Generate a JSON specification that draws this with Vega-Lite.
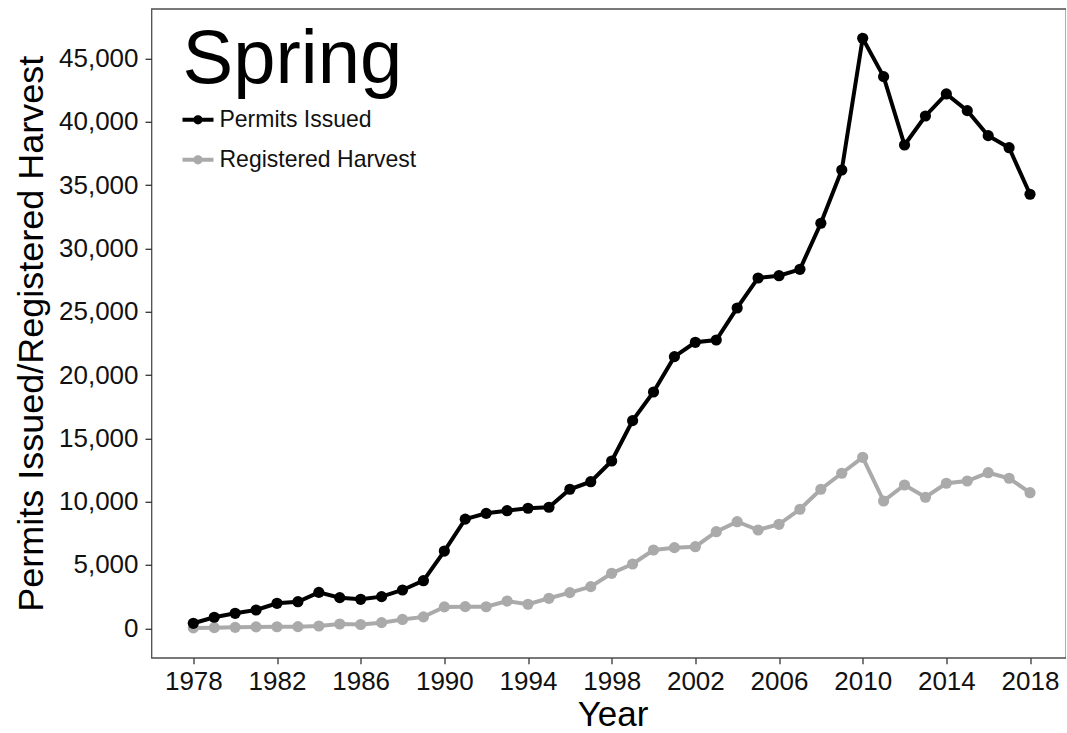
{
  "$schema": "https://vega.github.io/schema/vega-lite/v6.json",
  "width": 914.5,
  "height": 649,
  "autosize": {"type": "none"},
  "padding": {"left": 151.5, "top": 8.8, "right": 0, "bottom": 75},
  "background": "white",
  "config": {
    "font": "Liberation Sans",
    "view": {"stroke": "#4d4d4d", "strokeWidth": 1.3},
    "axis": {"domain": false, "grid": false, "tickColor": "#333333", "tickWidth": 1.3, "labelColor": "#111111", "titleColor": "#000000", "labelFont": "Liberation Sans", "titleFont": "Liberation Sans", "titleFontWeight": "normal"}
  },
  "data": {"values": [
    {"year": 1978, "series": "Registered Harvest", "value": 30},
    {"year": 1979, "series": "Registered Harvest", "value": 50},
    {"year": 1980, "series": "Registered Harvest", "value": 75},
    {"year": 1981, "series": "Registered Harvest", "value": 110},
    {"year": 1982, "series": "Registered Harvest", "value": 120},
    {"year": 1983, "series": "Registered Harvest", "value": 130},
    {"year": 1984, "series": "Registered Harvest", "value": 180},
    {"year": 1985, "series": "Registered Harvest", "value": 340},
    {"year": 1986, "series": "Registered Harvest", "value": 300},
    {"year": 1987, "series": "Registered Harvest", "value": 445},
    {"year": 1988, "series": "Registered Harvest", "value": 700},
    {"year": 1989, "series": "Registered Harvest", "value": 900},
    {"year": 1990, "series": "Registered Harvest", "value": 1690},
    {"year": 1991, "series": "Registered Harvest", "value": 1710},
    {"year": 1992, "series": "Registered Harvest", "value": 1700},
    {"year": 1993, "series": "Registered Harvest", "value": 2150},
    {"year": 1994, "series": "Registered Harvest", "value": 1900},
    {"year": 1995, "series": "Registered Harvest", "value": 2370},
    {"year": 1996, "series": "Registered Harvest", "value": 2815},
    {"year": 1997, "series": "Registered Harvest", "value": 3290},
    {"year": 1998, "series": "Registered Harvest", "value": 4345},
    {"year": 1999, "series": "Registered Harvest", "value": 5080},
    {"year": 2000, "series": "Registered Harvest", "value": 6185},
    {"year": 2001, "series": "Registered Harvest", "value": 6370},
    {"year": 2002, "series": "Registered Harvest", "value": 6445},
    {"year": 2003, "series": "Registered Harvest", "value": 7630},
    {"year": 2004, "series": "Registered Harvest", "value": 8420},
    {"year": 2005, "series": "Registered Harvest", "value": 7765},
    {"year": 2006, "series": "Registered Harvest", "value": 8215},
    {"year": 2007, "series": "Registered Harvest", "value": 9400},
    {"year": 2008, "series": "Registered Harvest", "value": 10980},
    {"year": 2009, "series": "Registered Harvest", "value": 12245},
    {"year": 2010, "series": "Registered Harvest", "value": 13505},
    {"year": 2011, "series": "Registered Harvest", "value": 10055},
    {"year": 2012, "series": "Registered Harvest", "value": 11320},
    {"year": 2013, "series": "Registered Harvest", "value": 10350},
    {"year": 2014, "series": "Registered Harvest", "value": 11455},
    {"year": 2015, "series": "Registered Harvest", "value": 11635},
    {"year": 2016, "series": "Registered Harvest", "value": 12290},
    {"year": 2017, "series": "Registered Harvest", "value": 11850},
    {"year": 2018, "series": "Registered Harvest", "value": 10710},
    {"year": 1978, "series": "Permits Issued", "value": 395},
    {"year": 1979, "series": "Permits Issued", "value": 870},
    {"year": 1980, "series": "Permits Issued", "value": 1185},
    {"year": 1981, "series": "Permits Issued", "value": 1445},
    {"year": 1982, "series": "Permits Issued", "value": 1975},
    {"year": 1983, "series": "Permits Issued", "value": 2100},
    {"year": 1984, "series": "Permits Issued", "value": 2840},
    {"year": 1985, "series": "Permits Issued", "value": 2420},
    {"year": 1986, "series": "Permits Issued", "value": 2290},
    {"year": 1987, "series": "Permits Issued", "value": 2500},
    {"year": 1988, "series": "Permits Issued", "value": 3025},
    {"year": 1989, "series": "Permits Issued", "value": 3760},
    {"year": 1990, "series": "Permits Issued", "value": 6100},
    {"year": 1991, "series": "Permits Issued", "value": 8620},
    {"year": 1992, "series": "Permits Issued", "value": 9080},
    {"year": 1993, "series": "Permits Issued", "value": 9290},
    {"year": 1994, "series": "Permits Issued", "value": 9480},
    {"year": 1995, "series": "Permits Issued", "value": 9560},
    {"year": 1996, "series": "Permits Issued", "value": 10980},
    {"year": 1997, "series": "Permits Issued", "value": 11580},
    {"year": 1998, "series": "Permits Issued", "value": 13215},
    {"year": 1999, "series": "Permits Issued", "value": 16400},
    {"year": 2000, "series": "Permits Issued", "value": 18665},
    {"year": 2001, "series": "Permits Issued", "value": 21455},
    {"year": 2002, "series": "Permits Issued", "value": 22590},
    {"year": 2003, "series": "Permits Issued", "value": 22770},
    {"year": 2004, "series": "Permits Issued", "value": 25300},
    {"year": 2005, "series": "Permits Issued", "value": 27670},
    {"year": 2006, "series": "Permits Issued", "value": 27850},
    {"year": 2007, "series": "Permits Issued", "value": 28355},
    {"year": 2008, "series": "Permits Issued", "value": 31990},
    {"year": 2009, "series": "Permits Issued", "value": 36200},
    {"year": 2010, "series": "Permits Issued", "value": 46600},
    {"year": 2011, "series": "Permits Issued", "value": 43570},
    {"year": 2012, "series": "Permits Issued", "value": 38175},
    {"year": 2013, "series": "Permits Issued", "value": 40465},
    {"year": 2014, "series": "Permits Issued", "value": 42205},
    {"year": 2015, "series": "Permits Issued", "value": 40885},
    {"year": 2016, "series": "Permits Issued", "value": 38910},
    {"year": 2017, "series": "Permits Issued", "value": 37960},
    {"year": 2018, "series": "Permits Issued", "value": 34280}
  ]},
  "encoding": {
    "x": {
      "field": "year", "type": "quantitative",
      "scale": {"domain": [1976, 2019.72], "nice": false, "zero": false},
      "axis": {
        "title": "Year", "values": [1978, 1982, 1986, 1990, 1994, 1998, 2002, 2006, 2010, 2014, 2018],
        "format": "d", "labelFontSize": 26, "tickSize": 6, "labelPadding": 5,
        "titleFontSize": 35, "titleX": 461, "titleY": 68, "titleBaseline": "alphabetic", "titleAlign": "center"
      }
    },
    "y": {
      "field": "value", "type": "quantitative",
      "scale": {"domain": [-2330, 48930], "nice": false, "zero": false},
      "axis": {
        "title": "Permits Issued/Registered Harvest",
        "values": [0, 5000, 10000, 15000, 20000, 25000, 30000, 35000, 40000, 45000],
        "format": ",d", "labelFontSize": 26, "tickSize": 6.5, "labelPadding": 7,
        "titleFontSize": 36, "titleAngle": -90, "titleX": -109.5, "titleY": 324.5, "titleBaseline": "alphabetic", "titleAlign": "center", "titleLimit": 1000
      }
    },
    "color": {
      "field": "series", "type": "nominal",
      "scale": {"domain": ["Permits Issued", "Registered Harvest"], "range": ["#000000", "#aaaaaa"]},
      "legend": {
        "title": "Spring", "orient": "none", "legendX": 31, "legendY": 14.5, "padding": 0,
        "titleFontSize": 76, "titleFontWeight": "normal", "titleColor": "#000000", "titlePadding": 5,
        "titleFont": "Liberation Sans", "titleLimit": 1000,
        "labelFontSize": 23, "labelColor": "#111111", "labelFont": "Liberation Sans", "labelOffset": 6, "labelLimit": 1000,
        "symbolType": "M-1,-0.13L1,-0.13L1,0.13L-1,0.13Z M0.3,0 A0.3,0.3 0 1,1 -0.3,0 A0.3,0.3 0 1,1 0.3,0 Z",
        "symbolSize": 961, "symbolStrokeWidth": 0, "rowPadding": 12,
        "encode": {"symbols": {"update": {"fill": {"scale": "color", "field": "value"}, "stroke": {"value": "transparent"}, "strokeWidth": {"value": 0}, "opacity": {"value": 1}}}}
      }
    }
  },
  "layer": [
    {"mark": {"type": "line", "strokeWidth": 4}},
    {"mark": {"type": "point", "filled": true, "opacity": 1, "size": 125}}
  ]
}
